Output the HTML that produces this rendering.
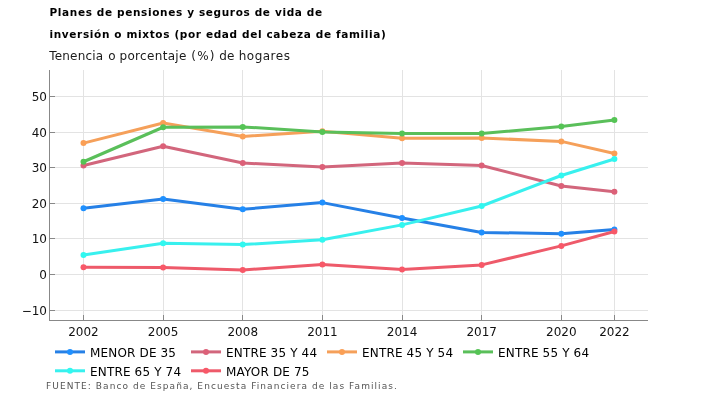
<!DOCTYPE html>
<html lang="es"><head><meta charset="utf-8"><title>Planes de pensiones</title>
<style>
html,body{margin:0;padding:0;background:#fff;}
body{width:728px;height:400px;overflow:hidden;font-family:"DejaVu Sans","Liberation Sans",sans-serif;}
svg{display:block;}
text{font-family:"DejaVu Sans","Liberation Sans",sans-serif;}
.t{font-weight:bold;font-size:10.5px;letter-spacing:0.64px;fill:#000;}
.s{font-size:12px;fill:#1a1a1a;}
.ax{font-size:12px;fill:#111;}
.lg{font-size:12px;letter-spacing:0.15px;fill:#000;}
.f{font-size:9px;letter-spacing:1.07px;fill:#555;}
</style></head><body>
<svg width="728" height="400" viewBox="0 0 728 400">
<rect width="728" height="400" fill="#fff"/>
<text class="t" x="49.5" y="16">Planes de pensiones y seguros de vida de</text>
<text class="t" x="49.5" y="37.6">inversión o mixtos (por edad del cabeza de familia)</text>
<text class="s" y="59.8"><tspan x="49.2" style="letter-spacing:0.2px">Tenencia </tspan><tspan x="108.3">o </tspan><tspan x="119.5" style="letter-spacing:0.32px">porcentaje </tspan><tspan x="191.2" style="letter-spacing:1.3px">(%) </tspan><tspan x="219.3" style="letter-spacing:0.1px">de </tspan><tspan x="238.7" style="letter-spacing:0.5px">hogares</tspan></text>
<g stroke="#e3e3e3" stroke-width="1" shape-rendering="crispEdges">
<line x1="83.50" x2="83.50" y1="70" y2="320"/>
<line x1="163.13" x2="163.13" y1="70" y2="320"/>
<line x1="242.77" x2="242.77" y1="70" y2="320"/>
<line x1="322.40" x2="322.40" y1="70" y2="320"/>
<line x1="402.04" x2="402.04" y1="70" y2="320"/>
<line x1="481.67" x2="481.67" y1="70" y2="320"/>
<line x1="561.31" x2="561.31" y1="70" y2="320"/>
<line x1="614.40" x2="614.40" y1="70" y2="320"/>
<line x1="50" x2="648" y1="96.48" y2="96.48"/>
<line x1="50" x2="648" y1="132.10" y2="132.10"/>
<line x1="50" x2="648" y1="167.73" y2="167.73"/>
<line x1="50" x2="648" y1="203.35" y2="203.35"/>
<line x1="50" x2="648" y1="238.98" y2="238.98"/>
<line x1="50" x2="648" y1="274.60" y2="274.60"/>
<line x1="50" x2="648" y1="310.23" y2="310.23"/>
</g>
<g stroke="#888" stroke-width="1" shape-rendering="crispEdges">
<line x1="49.5" x2="49.5" y1="70" y2="320.5"/>
<line x1="49" x2="648" y1="320" y2="320"/>
<line x1="83.50" x2="83.50" y1="315" y2="320"/>
<line x1="163.13" x2="163.13" y1="315" y2="320"/>
<line x1="242.77" x2="242.77" y1="315" y2="320"/>
<line x1="322.40" x2="322.40" y1="315" y2="320"/>
<line x1="402.04" x2="402.04" y1="315" y2="320"/>
<line x1="481.67" x2="481.67" y1="315" y2="320"/>
<line x1="561.31" x2="561.31" y1="315" y2="320"/>
<line x1="614.40" x2="614.40" y1="315" y2="320"/>
<line x1="50" x2="55" y1="96.48" y2="96.48"/>
<line x1="50" x2="55" y1="132.10" y2="132.10"/>
<line x1="50" x2="55" y1="167.73" y2="167.73"/>
<line x1="50" x2="55" y1="203.35" y2="203.35"/>
<line x1="50" x2="55" y1="238.98" y2="238.98"/>
<line x1="50" x2="55" y1="274.60" y2="274.60"/>
<line x1="50" x2="55" y1="310.23" y2="310.23"/>
</g>
<text class="ax" text-anchor="middle" x="83.50" y="336">2002</text>
<text class="ax" text-anchor="middle" x="163.13" y="336">2005</text>
<text class="ax" text-anchor="middle" x="242.77" y="336">2008</text>
<text class="ax" text-anchor="middle" x="322.40" y="336">2011</text>
<text class="ax" text-anchor="middle" x="402.04" y="336">2014</text>
<text class="ax" text-anchor="middle" x="481.67" y="336">2017</text>
<text class="ax" text-anchor="middle" x="561.31" y="336">2020</text>
<text class="ax" text-anchor="middle" x="614.40" y="336">2022</text>
<text class="ax" text-anchor="end" x="47" y="100.88">50</text>
<text class="ax" text-anchor="end" x="47" y="136.50">40</text>
<text class="ax" text-anchor="end" x="47" y="172.13">30</text>
<text class="ax" text-anchor="end" x="47" y="207.75">20</text>
<text class="ax" text-anchor="end" x="47" y="243.38">10</text>
<text class="ax" text-anchor="end" x="47" y="279.00">0</text>
<text class="ax" text-anchor="end" x="47" y="314.62">−10</text>
<polyline fill="none" stroke="#2680e6" stroke-width="3" stroke-linejoin="round" points="83.50,208.25 163.13,199.00 242.77,209.25 322.40,202.60 402.04,218.00 481.67,232.40 561.31,233.75 614.40,229.50"/>
<circle cx="83.50" cy="208.25" r="3" fill="#1e90ff"/>
<circle cx="163.13" cy="199.00" r="3" fill="#1e90ff"/>
<circle cx="242.77" cy="209.25" r="3" fill="#1e90ff"/>
<circle cx="322.40" cy="202.60" r="3" fill="#1e90ff"/>
<circle cx="402.04" cy="218.00" r="3" fill="#1e90ff"/>
<circle cx="481.67" cy="232.40" r="3" fill="#1e90ff"/>
<circle cx="561.31" cy="233.75" r="3" fill="#1e90ff"/>
<circle cx="614.40" cy="229.50" r="3" fill="#1e90ff"/>
<polyline fill="none" stroke="#d2667c" stroke-width="3" stroke-linejoin="round" points="83.50,165.50 163.13,146.25 242.77,163.00 322.40,167.00 402.04,163.00 481.67,165.50 561.31,186.00 614.40,191.75"/>
<circle cx="83.50" cy="165.50" r="3" fill="#dc6078"/>
<circle cx="163.13" cy="146.25" r="3" fill="#dc6078"/>
<circle cx="242.77" cy="163.00" r="3" fill="#dc6078"/>
<circle cx="322.40" cy="167.00" r="3" fill="#dc6078"/>
<circle cx="402.04" cy="163.00" r="3" fill="#dc6078"/>
<circle cx="481.67" cy="165.50" r="3" fill="#dc6078"/>
<circle cx="561.31" cy="186.00" r="3" fill="#dc6078"/>
<circle cx="614.40" cy="191.75" r="3" fill="#dc6078"/>
<polyline fill="none" stroke="#f5a05a" stroke-width="3" stroke-linejoin="round" points="83.50,143.10 163.13,123.00 242.77,136.40 322.40,131.25 402.04,138.25 481.67,138.00 561.31,141.40 614.40,153.50"/>
<circle cx="83.50" cy="143.10" r="3" fill="#fa9f55"/>
<circle cx="163.13" cy="123.00" r="3" fill="#fa9f55"/>
<circle cx="242.77" cy="136.40" r="3" fill="#fa9f55"/>
<circle cx="322.40" cy="131.25" r="3" fill="#fa9f55"/>
<circle cx="402.04" cy="138.25" r="3" fill="#fa9f55"/>
<circle cx="481.67" cy="138.00" r="3" fill="#fa9f55"/>
<circle cx="561.31" cy="141.40" r="3" fill="#fa9f55"/>
<circle cx="614.40" cy="153.50" r="3" fill="#fa9f55"/>
<polyline fill="none" stroke="#5abf5a" stroke-width="3" stroke-linejoin="round" points="83.50,161.75 163.13,127.25 242.77,126.90 322.40,132.00 402.04,133.50 481.67,133.50 561.31,126.60 614.40,120.10"/>
<circle cx="83.50" cy="161.75" r="3" fill="#55c455"/>
<circle cx="163.13" cy="127.25" r="3" fill="#55c455"/>
<circle cx="242.77" cy="126.90" r="3" fill="#55c455"/>
<circle cx="322.40" cy="132.00" r="3" fill="#55c455"/>
<circle cx="402.04" cy="133.50" r="3" fill="#55c455"/>
<circle cx="481.67" cy="133.50" r="3" fill="#55c455"/>
<circle cx="561.31" cy="126.60" r="3" fill="#55c455"/>
<circle cx="614.40" cy="120.10" r="3" fill="#55c455"/>
<polyline fill="none" stroke="#38f0ee" stroke-width="3" stroke-linejoin="round" points="83.50,255.00 163.13,243.25 242.77,244.60 322.40,239.75 402.04,224.90 481.67,206.00 561.31,175.50 614.40,159.00"/>
<circle cx="83.50" cy="255.00" r="3" fill="#30f8f0"/>
<circle cx="163.13" cy="243.25" r="3" fill="#30f8f0"/>
<circle cx="242.77" cy="244.60" r="3" fill="#30f8f0"/>
<circle cx="322.40" cy="239.75" r="3" fill="#30f8f0"/>
<circle cx="402.04" cy="224.90" r="3" fill="#30f8f0"/>
<circle cx="481.67" cy="206.00" r="3" fill="#30f8f0"/>
<circle cx="561.31" cy="175.50" r="3" fill="#30f8f0"/>
<circle cx="614.40" cy="159.00" r="3" fill="#30f8f0"/>
<polyline fill="none" stroke="#ee5a6a" stroke-width="3" stroke-linejoin="round" points="83.50,267.25 163.13,267.50 242.77,269.90 322.40,264.60 402.04,269.60 481.67,264.90 561.31,245.90 614.40,231.50"/>
<circle cx="83.50" cy="267.25" r="3" fill="#f85868"/>
<circle cx="163.13" cy="267.50" r="3" fill="#f85868"/>
<circle cx="242.77" cy="269.90" r="3" fill="#f85868"/>
<circle cx="322.40" cy="264.60" r="3" fill="#f85868"/>
<circle cx="402.04" cy="269.60" r="3" fill="#f85868"/>
<circle cx="481.67" cy="264.90" r="3" fill="#f85868"/>
<circle cx="561.31" cy="245.90" r="3" fill="#f85868"/>
<circle cx="614.40" cy="231.50" r="3" fill="#f85868"/>
<line x1="55" x2="85" y1="351.9" y2="351.9" stroke="#2680e6" stroke-width="3"/>
<circle cx="70" cy="351.9" r="3" fill="#1e90ff"/>
<text class="lg" x="90.1" y="356.75">MENOR DE 35</text>
<line x1="191" x2="221" y1="351.9" y2="351.9" stroke="#d2667c" stroke-width="3"/>
<circle cx="206" cy="351.9" r="3" fill="#dc6078"/>
<text class="lg" x="226.1" y="356.75">ENTRE 35 Y 44</text>
<line x1="327" x2="357" y1="351.9" y2="351.9" stroke="#f5a05a" stroke-width="3"/>
<circle cx="342" cy="351.9" r="3" fill="#fa9f55"/>
<text class="lg" x="362.1" y="356.75">ENTRE 45 Y 54</text>
<line x1="463" x2="493" y1="351.9" y2="351.9" stroke="#5abf5a" stroke-width="3"/>
<circle cx="478" cy="351.9" r="3" fill="#55c455"/>
<text class="lg" x="498.1" y="356.75">ENTRE 55 Y 64</text>
<line x1="55" x2="85" y1="370.8" y2="370.8" stroke="#38f0ee" stroke-width="3"/>
<circle cx="70" cy="370.8" r="3" fill="#30f8f0"/>
<text class="lg" x="90.1" y="375.65">ENTRE 65 Y 74</text>
<line x1="191" x2="221" y1="370.8" y2="370.8" stroke="#ee5a6a" stroke-width="3"/>
<circle cx="206" cy="370.8" r="3" fill="#f85868"/>
<text class="lg" x="226.1" y="375.65">MAYOR DE 75</text>
<text class="f" x="46" y="388.6">FUENTE: Banco de España, Encuesta Financiera de las Familias.</text>
</svg></body></html>
